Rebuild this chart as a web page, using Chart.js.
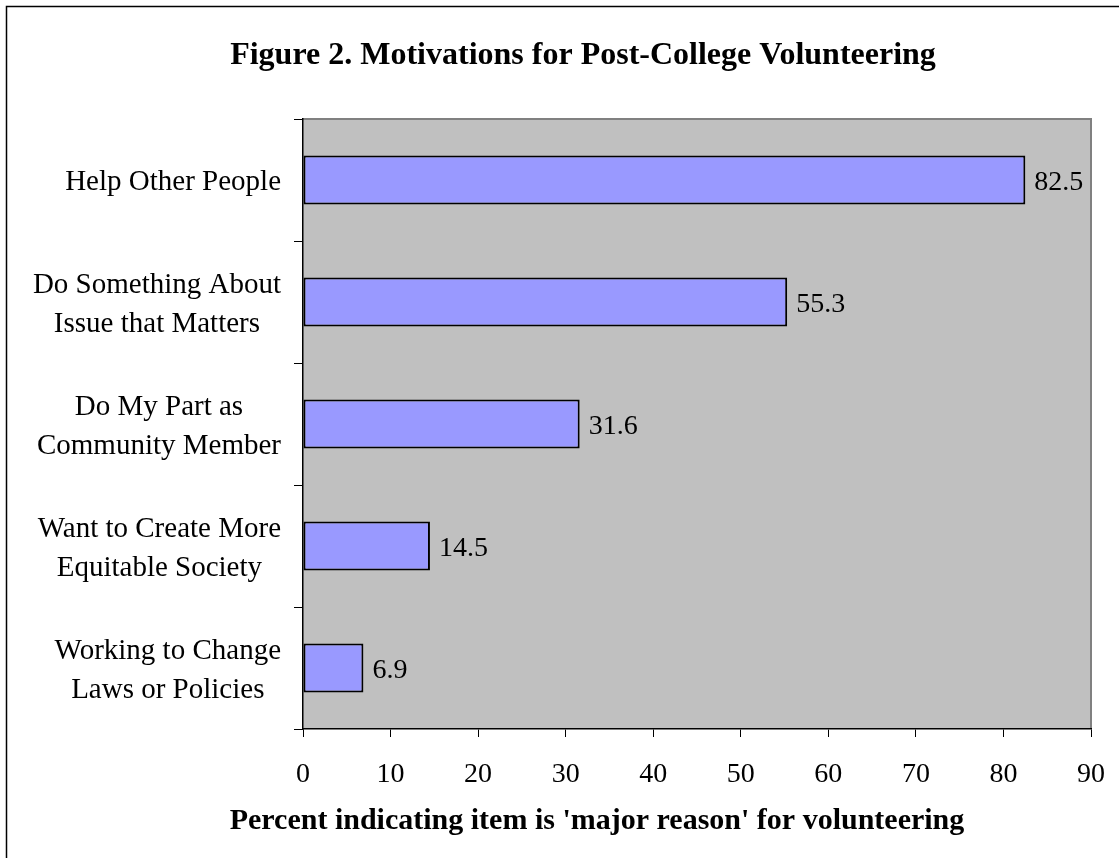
<!DOCTYPE html>
<html>
<head>
<meta charset="utf-8">
<title>Motivations for Post-College Volunteering</title>
<script src="https://cdn.jsdelivr.net/npm/chart.js@4.4.1/dist/chart.umd.min.js"></script>
<style>
  html, body { margin: 0; padding: 0; background: #fff; }
  #wrap { width: 1119px; height: 858px; }
</style>
</head>
<body>
<div id="wrap"><canvas id="chart" width="1119" height="858"></canvas></div>
<script>
// Survey answers, top to bottom
const reasons = [
    ['Help Other People'],
    ['Do Something About', 'Issue that Matters'],
    ['Do My Part as', 'Community Member'],
    ['Want to Create More', 'Equitable Society'],
    ['Working to Change', 'Laws or Policies']
];
const percents = [82.5, 55.3, 31.6, 14.5, 6.9];
const xTicks = [0, 10, 20, 30, 40, 50, 60, 70, 80, 90];

const chartTitle = 'Figure 2. Motivations for Post-College Volunteering';
const xTitle = "Percent indicating item is 'major reason' for volunteering";

const SERIF = '"Liberation Serif", "Times New Roman", serif';

// Background, frame, titles, category labels and value labels
const decorations = {
    id: 'decorations',
    beforeDraw(chart) {
        const { ctx, chartArea: a } = chart;
        ctx.save();
        ctx.fillStyle = '#fff';
        ctx.fillRect(0, 0, chart.width, chart.height);

        // outer frame (only top and left edges show)
        ctx.strokeStyle = '#000';
        ctx.lineWidth = 1.5;
        ctx.strokeRect(6.5, 6.5, chart.width + 20, chart.height + 20);

        // grey plot area with a dark grey top/right edge
        ctx.fillStyle = '#c0c0c0';
        ctx.fillRect(a.left, a.top, a.right - a.left, a.bottom - a.top);
        ctx.strokeStyle = '#808080';
        ctx.lineWidth = 2;
        ctx.beginPath();
        ctx.moveTo(a.left, a.top);
        ctx.lineTo(a.right, a.top);
        ctx.lineTo(a.right, a.bottom);
        ctx.stroke();
        ctx.restore();
    },
    afterDraw(chart) {
        const { ctx } = chart;
        const yScale = chart.scales.y;
        ctx.save();
        ctx.fillStyle = '#000';

        ctx.font = 'bold 32px ' + SERIF;
        ctx.textAlign = 'center';
        ctx.textBaseline = 'alphabetic';
        ctx.fillText(chartTitle, 583, 64);

        ctx.font = 'bold 30px ' + SERIF;
        ctx.fillText(xTitle, 597, 829);

        // category labels: each block right-aligned, lines centred within it
        ctx.font = '29px ' + SERIF;
        const lineH = 39;
        reasons.forEach((lines, i) => {
            const cy = yScale.getPixelForValue(i);
            const widest = Math.max(...lines.map(l => ctx.measureText(l).width));
            const cx = 281 - widest / 2;
            lines.forEach((line, j) => {
                const base = cy - (lines.length - 1) * lineH / 2 + j * lineH + 10;
                ctx.fillText(line, cx, base);
            });
        });

        // value labels at the bar ends
        ctx.font = '28px ' + SERIF;
        ctx.textAlign = 'left';
        const meta = chart.getDatasetMeta(0);
        meta.data.forEach((bar, i) => {
            ctx.fillText(percents[i].toFixed(1), bar.x + 9, bar.y + 10);
        });
        ctx.restore();
    }
};

new Chart(document.getElementById('chart'), {
    type: 'bar',
    data: {
        labels: reasons,
        datasets: [{
            data: percents,
            backgroundColor: '#9999ff',
            borderColor: '#000',
            borderWidth: 2,
            borderSkipped: false,
            categoryPercentage: 1,
            barPercentage: 0.4
        }]
    },
    options: {
        indexAxis: 'y',
        responsive: false,
        animation: false,
        events: [],
        layout: { padding: { top: 119, right: 28, bottom: 0, left: 0 } },
        plugins: {
            legend: { display: false },
            title: { display: false },
            tooltip: { enabled: false }
        },
        scales: {
            x: {
                min: 0,
                max: 90,
                afterBuildTicks(scale) {
                    scale.ticks = xTicks.map(v => ({ value: v }));
                },
                afterFit(scale) {
                    scale.height = 129;
                    scale.paddingLeft = 0;
                    scale.paddingRight = 0;
                },
                border: { display: true, color: '#000', width: 1.5 },
                grid: {
                    drawOnChartArea: false,
                    drawTicks: true,
                    tickLength: 8,
                    tickColor: '#000',
                    lineWidth: 1
                },
                ticks: {
                    color: '#000',
                    padding: 21,
                    maxRotation: 0,
                    font: { family: SERIF, size: 28 }
                }
            },
            y: {
                type: 'category',
                afterFit(scale) { scale.width = 303; },
                border: { display: true, color: '#000', width: 1.5 },
                grid: {
                    offset: true,
                    drawOnChartArea: false,
                    drawTicks: true,
                    tickLength: 9,
                    tickColor: '#000',
                    lineWidth: 1
                },
                ticks: { display: false }
            }
        }
    },
    plugins: [decorations]
});
</script>
</body>
</html>
